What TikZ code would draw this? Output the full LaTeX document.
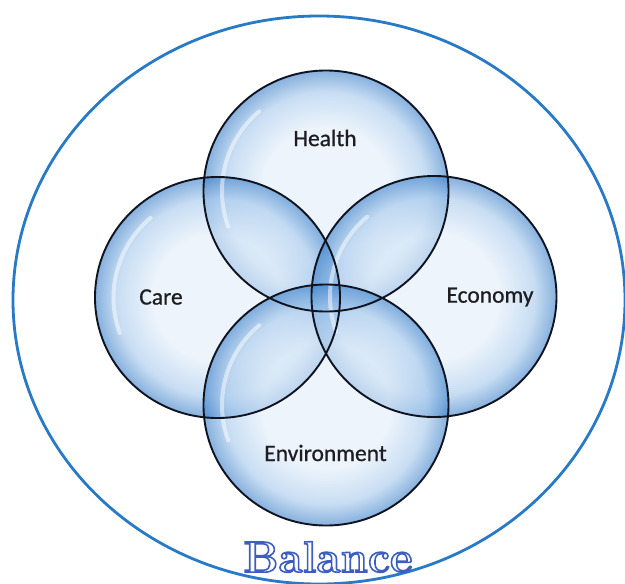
\documentclass[tikz,border=0pt]{standalone}
\usepackage{fontspec}
\newfontfamily\labfont[FakeBold=0.8]{Carlito}
\usetikzlibrary{shapes.geometric}
\definecolor{outerblue}{RGB}{40,122,198}
\definecolor{bIn}{RGB}{226,238,250}
\definecolor{bMid}{RGB}{165,200,236}
\definecolor{bOut}{RGB}{55,125,200}
\definecolor{rim}{RGB}{15,20,32}
\definecolor{labgray}{RGB}{30,30,34}
\pgfdeclareradialshading{bubbleshade}{\pgfpoint{0bp}{0bp}}{color(0bp)=(bIn); color(13bp)=(bIn); color(20.5bp)=(bMid); color(25bp)=(bOut); color(50bp)=(bOut)}
\newcommand{\outlinetext}[1]{\special{pdf:literal direct 2 Tr 1.6 w 0.24 0.37 0.75 RG}#1\special{pdf:literal direct 0 Tr}}
\begin{document}
\begin{tikzpicture}[x=1pt,y=-1pt,
  bubble/.style={ellipse, inner sep=0pt, minimum width=245pt, minimum height=241pt, shading=bubbleshade, fill opacity=0.6},
  rimline/.style={draw=rim, line width=1.9pt},
  gloss/.style={draw=white, line width=4pt, line cap=round, opacity=0.5},
  lab/.style={font=\labfont\fontsize{23.5}{23.5}\selectfont, text=labgray, inner sep=0pt},
  balstyle/.style={font=\fontsize{44}{44}\selectfont\bfseries, inner sep=0pt},
]
\useasboundingbox (0,0) rectangle (625,584);
\fill[white] (0,0) rectangle (625,584);
% outer ring
\node[ellipse, draw=outerblue, line width=2.8pt, minimum width=612pt, minimum height=568pt, inner sep=0pt] (ring) at (319,300) {};
% bubbles
\node[bubble] (health) at (326,191) {};
\node[bubble] (care) at (217.5,297.5) {};
\node[bubble] (economy) at (434,296.5) {};
\node[bubble] (environment) at (326,405) {};
% gloss highlights
\foreach \b in {health,care,economy,environment}{
  \draw[gloss] (\b.center) ++(-200:104) arc[start angle=-200, end angle=-130, radius=104];
}
% rims
\foreach \b in {health,care,economy,environment}{
  \draw[rimline] (\b.center) ellipse[x radius=122.5pt, y radius=120.5pt];
}
% labels
\node[lab] (healthlabel) at (325,138) {Health};
\node[lab] (carelabel) at (161,297) {Care};
\node[lab] (economylabel) at (490,297) {Economy};
\node[lab] (environmentlabel) at (325.5,453) {Environment};
% Balance (outlined text)
\node[balstyle, text=white] (balance) at (328,557) {\outlinetext{Balance}};
\end{tikzpicture}
\end{document}
